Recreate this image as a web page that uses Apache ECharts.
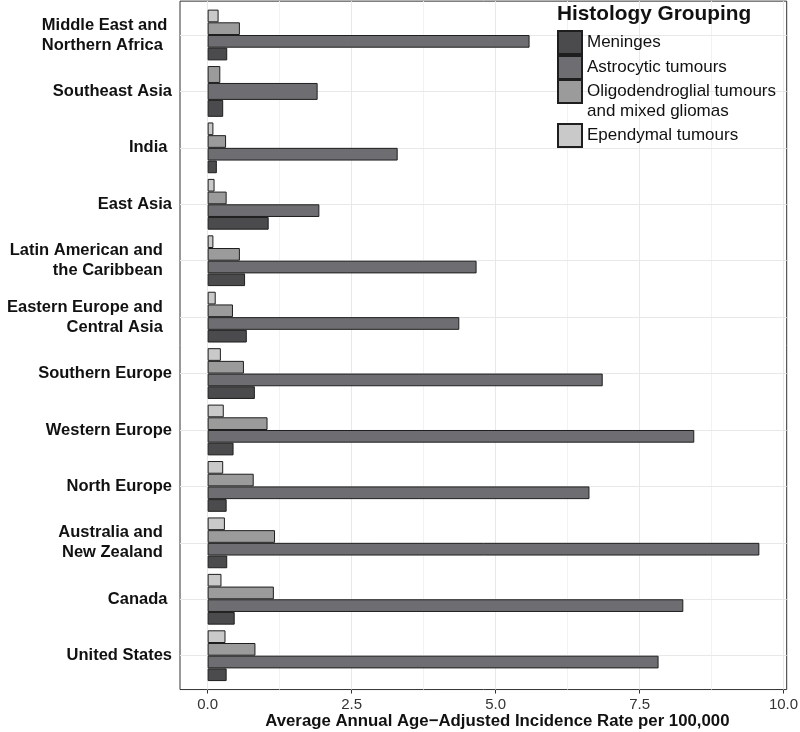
<!DOCTYPE html>
<html><head><meta charset="utf-8">
<script src="https://cdn.jsdelivr.net/npm/echarts@6/dist/echarts.min.js"></script>
<style>html,body{margin:0;padding:0;background:#fff}#c{width:800px;height:732px}</style>
</head><body><div id="c"></div>
<script>
const categories = ['Middle East and \nNorthern Africa  ', 'Southeast Asia', 'India ', 'East Asia',
  'Latin American and  \nthe Caribbean  ', 'Eastern Europe and  \nCentral Asia  ', 'Southern Europe',
  'Western Europe', 'North Europe', 'Australia and  \nNew Zealand  ', 'Canada ', 'United States'];
const seriesNames = ['Meninges', 'Astrocytic tumours', 'Oligodendroglial tumours and mixed gliomas', 'Ependymal tumours'];
const meninges  = [0.34, 0.27, 0.16, 1.06, 0.65, 0.68, 0.82, 0.45, 0.33, 0.34, 0.47, 0.33];
const astro     = [5.59, 1.91, 3.30, 1.94, 4.67, 4.37, 6.86, 8.45, 6.63, 9.58, 8.26, 7.83];
const oligo     = [0.56, 0.22, 0.32, 0.33, 0.56, 0.44, 0.63, 1.04, 0.80, 1.17, 1.15, 0.83];
const ependymal = [0.19, null, 0.10, 0.12, 0.10, 0.14, 0.23, 0.28, 0.27, 0.30, 0.24, 0.31];
const xTicks = [0, 2.5, 5, 7.5, 10];
const xMinor = [1.25, 3.75, 6.25, 8.75];
const xMin = -0.48, xMax = 10.055;

const colors = {'Meninges':'#4b4b4d','Astrocytic tumours':'#6e6e72','Oligodendroglial tumours and mixed gliomas':'#9b9b9b','Ependymal tumours':'#c9c9c9'};
const values = {'Meninges':meninges,'Astrocytic tumours':astro,'Oligodendroglial tumours and mixed gliomas':oligo,'Ependymal tumours':ependymal};
const FF = '"Liberation Sans", Arial, Helvetica, sans-serif';

// categories with a missing group are dodged among the remaining bars only
const incomplete = categories.map((c, i) => seriesNames.some(n => values[n][i] == null));
const drawOrder = [seriesNames[3], seriesNames[2], seriesNames[1], seriesNames[0]]; // top -> bottom

const series = [];
drawOrder.forEach(n => {
  series.push({
    name: n, type: 'bar', xAxisIndex: 0, yAxisIndex: 0, z: 3,
    barCategoryGap: '10%', barGap: '0%',
    itemStyle: {color: colors[n], borderColor: '#1e1e1e', borderWidth: 1},
    data: values[n].map((v, i) => incomplete[i] ? null : v)
  });
});
drawOrder.forEach(n => {
  const d = values[n].map((v, i) => incomplete[i] ? v : null);
  if (d.every(v => v == null)) return;
  series.push({
    name: n, type: 'bar', xAxisIndex: 0, yAxisIndex: 1, z: 3,
    barCategoryGap: '10%', barGap: '0%',
    itemStyle: {color: colors[n], borderColor: '#1e1e1e', borderWidth: 1},
    data: d
  });
});
// vertical grid lines (span the whole panel)
series.push({
  type: 'line', xAxisIndex: 1, yAxisIndex: 2, data: [], silent: true, z: 1,
  markLine: {silent: true, z: 1, symbol: ['none','none'], animation: false, label: {show: false},
    data: xTicks.map(v => ({xAxis: v, lineStyle: {color: '#e8e8e8', width: 1, type: 'solid'}}))
      .concat(xMinor.map(v => ({xAxis: v, lineStyle: {color: '#f2f2f2', width: 1, type: 'solid'}})))}
});
// horizontal grid lines at category centres
series.push({
  type: 'line', xAxisIndex: 0, yAxisIndex: 0, data: [], silent: true, z: 1,
  markLine: {silent: true, z: 1, symbol: ['none','none'], animation: false, label: {show: false},
    lineStyle: {color: '#e8e8e8', width: 1, type: 'solid'},
    data: categories.map(c => ({yAxis: c}))}
});

const legendTops = [30, 55, 61.5, 123];
const legends = seriesNames.map((n, i) => ({
  data: [n], left: 557, top: legendTops[i], padding: 0, itemWidth: 24, itemHeight: 23, icon: 'rect',
  selectedMode: false,
  formatter: name => name === seriesNames[2] ? '\nOligodendroglial tumours\nand mixed gliomas' : name,
  textStyle: i === 2 ? {fontSize: 17, color: '#111', fontFamily: FF, lineHeight: 20}
                     : {fontSize: 17, color: '#111', fontFamily: FF}
}));

const chart = echarts.init(document.getElementById('c'), null, {renderer: 'canvas'});
chart.setOption({
  animation: false,
  backgroundColor: '#fff',
  title: {text: 'Histology Grouping', left: 557, top: 4, padding: 0,
    textStyle: {fontSize: 20.8, fontWeight: 'bold', color: '#111', fontFamily: FF}},
  legend: legends,
  grid: [
    {left: 180, right: 13.3, top: 6.79, bottom: 48.09, show: false, outerBoundsMode: 'none', containLabel: false},
    {left: 180, right: 13.3, top: 1.14, bottom: 42.44, show: true, borderColor: '#333', borderWidth: 1,
      backgroundColor: 'transparent', outerBoundsMode: 'none', containLabel: false}
  ],
  xAxis: [
    {gridIndex: 0, type: 'value', min: xMin, max: xMax, show: false},
    {gridIndex: 1, type: 'value', min: xMin, max: xMax,
      axisLine: {show: false}, splitLine: {show: false},
      axisTick: {show: true, customValues: xTicks, length: 4, lineStyle: {color: '#333'}},
      axisLabel: {customValues: xTicks, formatter: v => v.toFixed(1), fontSize: 15, color: '#333', margin: 8, fontFamily: FF},
      name: 'Average Annual Age\u2212Adjusted Incidence Rate per 100,000', nameLocation: 'middle', nameGap: 23,
      nameMoveOverlap: false,
      nameTextStyle: {fontWeight: 'bold', fontSize: 16.8, color: '#111', fontFamily: FF, padding: [0,0,0,28], verticalAlign: 'top'}}
  ],
  yAxis: [
    {gridIndex: 0, type: 'category', data: categories, inverse: true,
      axisLine: {show: false}, splitLine: {show: false},
      axisTick: {show: true, alignWithLabel: true, length: 4, lineStyle: {color: '#333'}},
      axisLabel: {fontSize: 16.5, fontWeight: 'bold', color: '#111', fontFamily: FF, margin: 8, lineHeight: 20, interval: 0}},
    {gridIndex: 0, type: 'category', data: categories, inverse: true, show: false},
    {gridIndex: 1, type: 'value', min: 0, max: 1, show: false}
  ],
  series: series
});
</script></body></html>
